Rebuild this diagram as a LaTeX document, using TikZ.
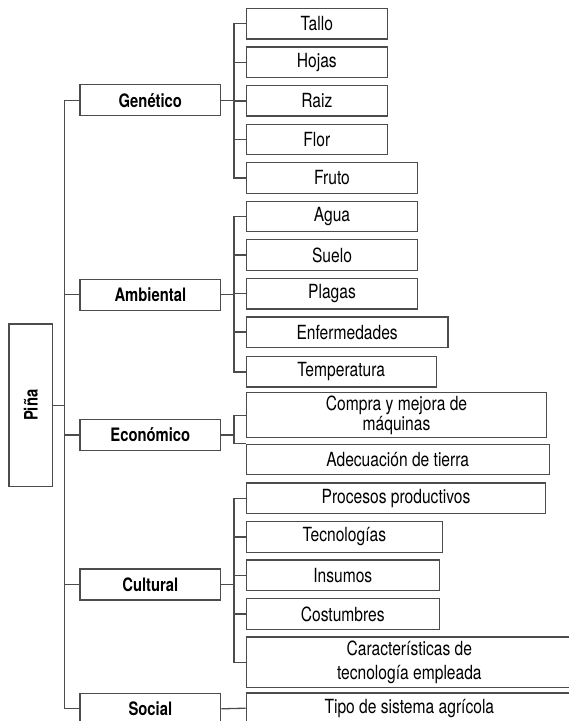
\documentclass[tikz,border=0pt]{standalone}
\usepackage{fontspec}
\setmainfont{TeX Gyre Heros}[FakeStretch=0.8]
\usepackage{graphicx}
\usepackage{tikz}
\usetikzlibrary{positioning}

\begin{document}
\begin{tikzpicture}[x=1pt, y=-1pt, root/.style={draw=black!70, line
      width=1.3pt, minimum width=43.7, minimum height=162.7,
      font=\fontsize{18.5pt}{20pt}\selectfont\bfseries}, factor/.style={draw=black!70,
      line width=1.3pt, minimum width=140.7, minimum height=31,
      font=\fontsize{18.5pt}{20pt}\selectfont\bfseries}, leaf/.style={draw=black!70,
      line width=1.3pt, minimum height=30.5, anchor=west, align=center,
      font=\fontsize{19.5pt}{17.5pt}\selectfont}, link/.style={draw=black!70,
      line width=1.3pt} ]

    \path[use as bounding box, clip] (0,0) rectangle (569,721);

    % Root
    \node[root] (pina) at (30.85,405.35) {\rotatebox{90}{Piña}};

    % Factors
    \node[factor] (gen) at (150.35,100.2) {Genético}; \node[factor] (amb) at
    (150.35,294.8) {Ambiental}; \node[factor] (eco) at (150.35,435)
    {Económico}; \node[factor] (cul) at (150.35,584.5) {Cultural};
    \node[factor] (soc) at (150.35,708.8) {Social};

    % Genetic items
    \node[leaf, minimum width=141] (tallo) at (245.7,23.65) {Tallo};
    \node[leaf, minimum width=141] (hojas) at (245.7,62.15) {Hojas};
    \node[leaf, minimum width=141] (raiz) at (245.7,100.85) {Raiz};
    \node[leaf, minimum width=141] (flor) at (245.7,139.5) {Flor};
    \node[leaf, minimum width=171.3] (fruto) at (245.7,178) {Fruto};

    % Environmental items
    \node[leaf, minimum width=171.3] (agua) at (245.7,216.5) {Agua};
    \node[leaf, minimum width=171.3] (suelo) at (245.7,255) {Suelo};
    \node[leaf, minimum width=171.3] (plagas) at (245.7,293.75) {Plagas};
    \node[leaf, minimum width=201.6] (enfer) at (245.7,332.1) {Enfermedades};
    \node[leaf, minimum width=189.8] (temp) at (245.7,371.85) {Temperatura};

    % Economic items
    \node[leaf, minimum width=300.3, minimum height=41.5] (compra) at
    (245.7,415.25) {Compra y mejora de\\máquinas}; \node[leaf, minimum
    width=302.8] (adec) at (245.7,459.5) {Adecuación de tierra};

    % Cultural items
    \node[leaf, minimum width=299.3] (proc) at (245.7,498.35) {Procesos
    productivos}; \node[leaf, minimum width=196] (tecno) at (245.7,537)
    {Tecnologías}; \node[leaf, minimum width=192.8] (insumos) at
    (245.7,575.35) {Insumos}; \node[leaf, minimum width=192.8] (costum) at
    (245.7,614) {Costumbres}; \node[leaf, minimum width=326, minimum
    height=50.5, font=\fontsize{19.5pt}{23.3pt}\selectfont] (carac) at
    (245.7,662.25) {Características de\\tecnología empleada};

    % Social items
    \node[leaf, minimum width=326] (tipo) at (245.7,708.2) {Tipo de sistema
    agrícola};

    % Root branches
    \foreach \f in {gen,amb,eco,cul,soc} \draw[link] (pina.east) --
    ++(11.3,0) |- (\f.west);

    % Item branches
    \foreach \i in {tallo,hojas,raiz,flor,fruto} \draw[link] (gen.east) --
    ++(12.6,0) |- (\i.west); \foreach \i in {agua,suelo,plagas,enfer,temp}
    \draw[link] (amb.east) -- ++(12.6,0) |- (\i.west); \draw[link] (eco.east)
    -- ++(12.6,0) |- (compra.west); \draw[link] (eco.east) -- ++(12.6,0) |-
    (adec.north west); \foreach \i in {proc,tecno,insumos,costum,carac}
    \draw[link] (cul.east) -- ++(12.6,0) |- (\i.west); \draw[link] (soc.east)
    -- (tipo.west);

\end{tikzpicture}
\end{document}
